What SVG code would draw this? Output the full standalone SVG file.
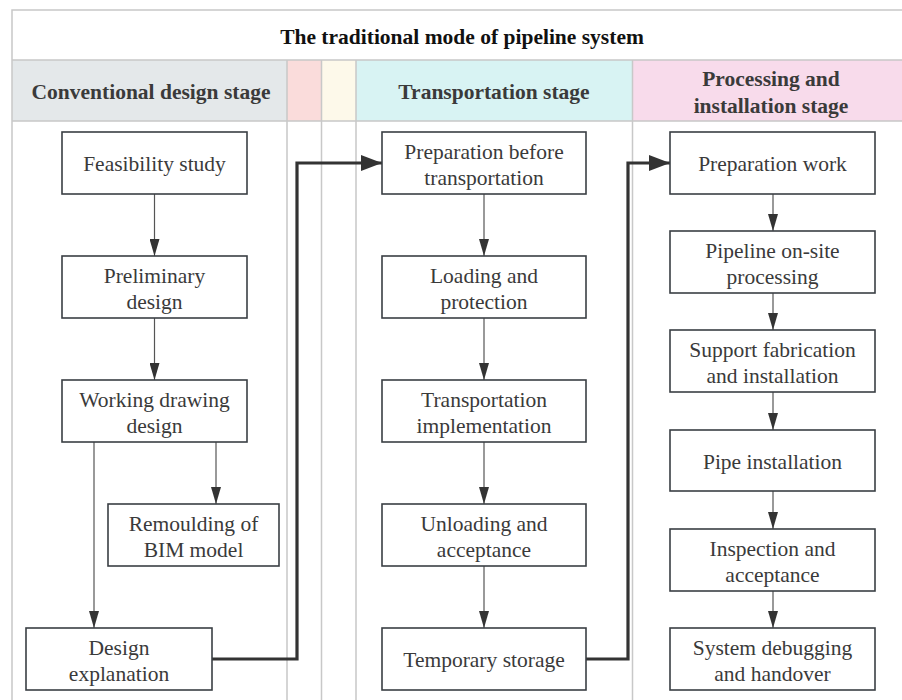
<svg xmlns="http://www.w3.org/2000/svg" width="902" height="700" viewBox="0 0 902 700">
<style>
.grid{stroke:#c8c8c8;stroke-width:1.5;fill:none}
.node rect{fill:#fff;stroke:#3a3f44;stroke-width:1.6}
.node text,.stage,.title{font-size:21.5px;fill:#3a3a3a;text-anchor:middle}
.stage{font-weight:bold}
.title{font-weight:bold;fill:#111}
.thin{stroke:#555;stroke-width:1.2;fill:none;marker-end:url(#ah)}
.thick{stroke:#333;stroke-width:3.2;fill:none;marker-end:url(#ahb)}
</style>
<defs>
<marker id="ah" markerUnits="userSpaceOnUse" markerWidth="18" markerHeight="10" viewBox="0 0 18 10" refX="17" refY="5" orient="auto">
<path d="M0,0 L17,5 L0,10 Z" fill="#333"/>
</marker>
<marker id="ahb" markerUnits="userSpaceOnUse" markerWidth="22" markerHeight="16" viewBox="0 0 22 16" refX="21" refY="8" orient="auto">
<path d="M0,0 L21,8 L0,16 Z" fill="#333"/>
</marker>
</defs>
<rect x="0" y="0" width="902" height="700" fill="#fff"/>
<g id="table">
<rect x="12" y="60" width="275" height="61" fill="#e4e8ea"/>
<rect x="287" y="60" width="34.5" height="61" fill="#fadcdb"/>
<rect x="321.5" y="60" width="34.5" height="61" fill="#fdf9ea"/>
<rect x="356" y="60" width="276.5" height="61" fill="#d8f3f3"/>
<rect x="632.5" y="60" width="280" height="61" fill="#f8dbeb"/>
<path class="grid" d="M12,710 V10 H912 M12,60 H912 M12,121 H912 M287,60 V710 M321.5,60 V710 M356,60 V710 M632.5,60 V710"/>
<text class="title" style="font-family:'Liberation Serif',serif" x="462" y="43.5">The traditional mode of pipeline system</text>
<text class="stage" style="font-family:'Liberation Serif',serif" x="151" y="99">Conventional design stage</text>
<text class="stage" style="font-family:'Liberation Serif',serif" x="494" y="99">Transportation stage</text>
<text class="stage" style="font-family:'Liberation Serif',serif" x="771" y="86">Processing and</text>
<text class="stage" style="font-family:'Liberation Serif',serif" x="771" y="113">installation stage</text>
</g>
<g id="connectors">
<path class="thin" d="M154.5,194 V256"/>
<path class="thin" d="M154.5,318 V380"/>
<path class="thin" d="M94,442 V628"/>
<path class="thin" d="M216,442 V504"/>
<path class="thin" d="M484,194 V256"/>
<path class="thin" d="M484,318 V380"/>
<path class="thin" d="M484,442 V504"/>
<path class="thin" d="M484,566 V628"/>
<path class="thin" d="M773,194 V231"/>
<path class="thin" d="M773,293 V330"/>
<path class="thin" d="M773,392 V430"/>
<path class="thin" d="M773,491 V529"/>
<path class="thin" d="M773,591 V628"/>
<path class="thick" d="M212,659 H297 V163 H382"/>
<path class="thick" d="M586,659 H628 V163 H670"/>
</g>
<g id="feasibility" class="node"><rect x="62" y="132" width="185" height="62"/><text style="font-family:'Liberation Serif',serif" x="154.5" y="171">Feasibility study</text></g>
<g id="preliminary" class="node"><rect x="62" y="256" width="185" height="62"/><text style="font-family:'Liberation Serif',serif" x="154.5" y="283">Preliminary</text><text style="font-family:'Liberation Serif',serif" x="154.5" y="309">design</text></g>
<g id="working" class="node"><rect x="62" y="380" width="185" height="62"/><text style="font-family:'Liberation Serif',serif" x="154.5" y="407">Working drawing</text><text style="font-family:'Liberation Serif',serif" x="154.5" y="433">design</text></g>
<g id="remould" class="node"><rect x="108" y="504" width="171" height="62"/><text style="font-family:'Liberation Serif',serif" x="193.5" y="531">Remoulding of</text><text style="font-family:'Liberation Serif',serif" x="193.5" y="557">BIM model</text></g>
<g id="explanation" class="node"><rect x="26" y="628" width="186" height="62"/><text style="font-family:'Liberation Serif',serif" x="119" y="655">Design</text><text style="font-family:'Liberation Serif',serif" x="119" y="681">explanation</text></g>
<g id="prep-transport" class="node"><rect x="382" y="132" width="204" height="62"/><text style="font-family:'Liberation Serif',serif" x="484" y="159">Preparation before</text><text style="font-family:'Liberation Serif',serif" x="484" y="185">transportation</text></g>
<g id="loading" class="node"><rect x="382" y="256" width="204" height="62"/><text style="font-family:'Liberation Serif',serif" x="484" y="283">Loading and</text><text style="font-family:'Liberation Serif',serif" x="484" y="309">protection</text></g>
<g id="implementation" class="node"><rect x="382" y="380" width="204" height="62"/><text style="font-family:'Liberation Serif',serif" x="484" y="407">Transportation</text><text style="font-family:'Liberation Serif',serif" x="484" y="433">implementation</text></g>
<g id="unloading" class="node"><rect x="382" y="504" width="204" height="62"/><text style="font-family:'Liberation Serif',serif" x="484" y="531">Unloading and</text><text style="font-family:'Liberation Serif',serif" x="484" y="557">acceptance</text></g>
<g id="storage" class="node"><rect x="382" y="628" width="204" height="62"/><text style="font-family:'Liberation Serif',serif" x="484" y="667">Temporary storage</text></g>
<g id="prep-work" class="node"><rect x="670" y="132" width="205" height="62"/><text style="font-family:'Liberation Serif',serif" x="772.5" y="171">Preparation work</text></g>
<g id="onsite" class="node"><rect x="670" y="231" width="205" height="62"/><text style="font-family:'Liberation Serif',serif" x="772.5" y="258">Pipeline on-site</text><text style="font-family:'Liberation Serif',serif" x="772.5" y="284">processing</text></g>
<g id="support" class="node"><rect x="670" y="330" width="205" height="62"/><text style="font-family:'Liberation Serif',serif" x="772.5" y="357">Support fabrication</text><text style="font-family:'Liberation Serif',serif" x="772.5" y="383">and installation</text></g>
<g id="pipe" class="node"><rect x="670" y="430" width="205" height="61"/><text style="font-family:'Liberation Serif',serif" x="772.5" y="469">Pipe installation</text></g>
<g id="inspection" class="node"><rect x="670" y="529" width="205" height="62"/><text style="font-family:'Liberation Serif',serif" x="772.5" y="556">Inspection and</text><text style="font-family:'Liberation Serif',serif" x="772.5" y="582">acceptance</text></g>
<g id="debugging" class="node"><rect x="670" y="628" width="205" height="62"/><text style="font-family:'Liberation Serif',serif" x="772.5" y="655">System debugging</text><text style="font-family:'Liberation Serif',serif" x="772.5" y="681">and handover</text></g>
</svg>
